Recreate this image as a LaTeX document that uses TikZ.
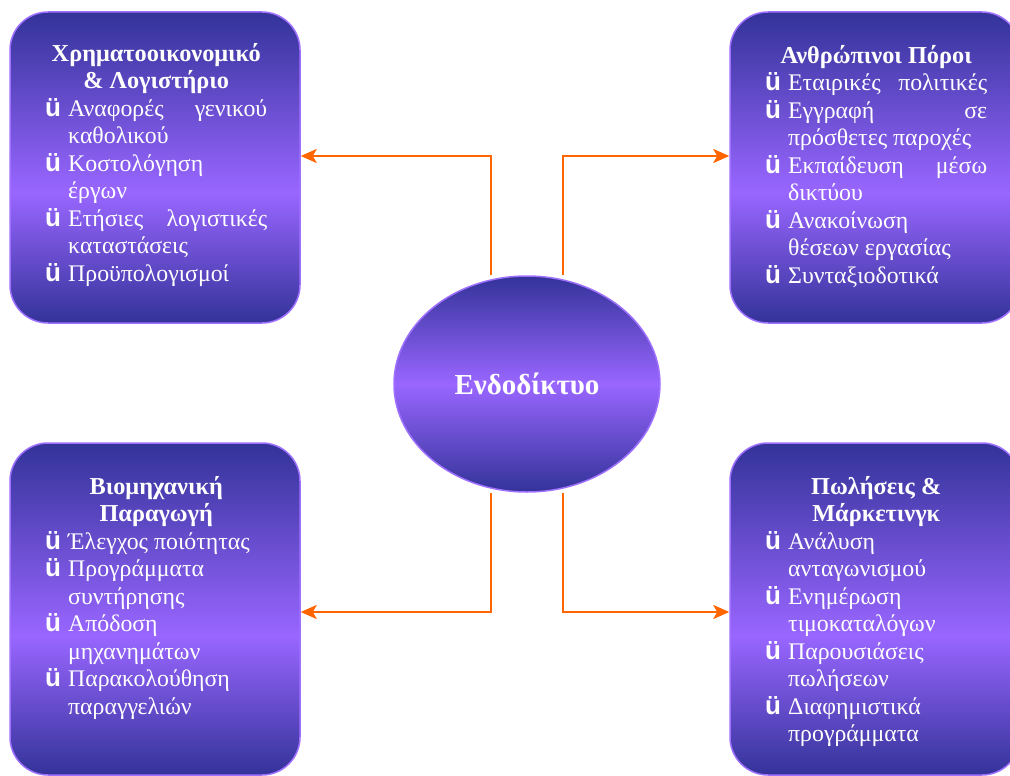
\documentclass[tikz,border=0pt]{standalone}
\usepackage{fontspec}
\setmainfont{Liberation Serif}
\newfontfamily\bulfont{Liberation Sans}
\usetikzlibrary{arrows.meta,shapes.geometric}
\definecolor{dk}{HTML}{333399}
\definecolor{lt}{HTML}{9966FF}
\definecolor{rim}{HTML}{9F70FF}
\definecolor{org}{HTML}{FF6600}
\pgfdeclareverticalshading{boxsh}{100bp}{color(0bp)=(dk); color(25bp)=(dk); color(46bp)=(lt); color(75bp)=(dk); color(100bp)=(dk)}
\pgfdeclareverticalshading{ellsh}{100bp}{color(0bp)=(dk); color(25bp)=(dk); color(50bp)=(lt); color(75bp)=(dk); color(100bp)=(dk)}
\newcommand\bu{\makebox[23pt][l]{\bulfont\bfseries\fontsize{26}{26}\selectfont ü}}
\newcommand\ttl[1]{\makebox[222pt][c]{\bfseries\fontsize{24.3}{27.5}\selectfont #1}}
\newcommand\fl[1]{\bu#1}
\newcommand\jl[1]{\bu\makebox[199pt][s]{#1}}
\newcommand\cl[1]{\hspace*{23pt}#1}
\tikzset{
  box/.style={rectangle, rounded corners=38pt, minimum width=290pt, shade, shading=boxsh, draw=rim, line width=1.5pt, inner sep=0pt},
  txt/.style={anchor=north west, align=left, inner sep=0pt, text=white, font=\fontsize{23.8}{27.5}\selectfont},
  arr/.style={draw=org, line width=2.5pt, -{Stealth[length=16pt, width=14pt, inset=4pt]}}
}
\begin{document}
\begin{tikzpicture}[x=1pt,y=-1pt]
\useasboundingbox (0,0) rectangle (1010,776);
\fill[white] (0,0) rectangle (1010,776);
\clip (0,0) rectangle (1010,776);
\node[box, minimum height=311pt] (tl) at (155,167.5) {};
\node[box, minimum height=311pt] (tr) at (875,167.5) {};
\node[box, minimum height=332pt] (bl) at (155,609) {};
\node[box, minimum height=332pt] (br) at (875,609) {};
\node[ellipse, minimum width=266pt, minimum height=216pt, shade, shading=ellsh, draw=rim, line width=1.5pt, inner sep=0pt, text=white, font=\bfseries\fontsize{29}{32}\selectfont] (hub) at (527,384) {Ενδοδίκτυο};

\node[txt] (tlt) at (45,43) {\ttl{Χρηματοοικονομικό}\\ \ttl{\& Λογιστήριο}\\
\jl{Αναφορές γενικού}\\ \cl{καθολικού}\\ \fl{Κοστολόγηση}\\ \cl{έργων}\\
\jl{Ετήσιες λογιστικές}\\ \cl{καταστάσεις}\\ \fl{Προϋπολογισμοί}};

\node[txt] (trt) at (765,45) {\ttl{Ανθρώπινοι Πόροι}\\
\jl{Εταιρικές πολιτικές}\\ \jl{Εγγραφή σε}\\ \cl{πρόσθετες παροχές}\\
\jl{Εκπαίδευση μέσω}\\ \cl{δικτύου}\\ \fl{Ανακοίνωση}\\ \cl{θέσεων εργασίας}\\
\fl{Συνταξιοδοτικά}};

\node[txt] (blt) at (45,476) {\ttl{Βιομηχανική}\\ \ttl{Παραγωγή}\\
\fl{Έλεγχος ποιότητας}\\ \fl{Προγράμματα}\\ \cl{συντήρησης}\\
\fl{Απόδοση}\\ \cl{μηχανημάτων}\\ \fl{Παρακολούθηση}\\ \cl{παραγγελιών}};

\node[txt] (brt) at (765,476) {\ttl{Πωλήσεις \&}\\ \ttl{Μάρκετινγκ}\\
\fl{Ανάλυση}\\ \cl{ανταγωνισμού}\\ \fl{Ενημέρωση}\\ \cl{τιμοκαταλόγων}\\
\fl{Παρουσιάσεις}\\ \cl{πωλήσεων}\\ \fl{Διαφημιστικά}\\ \cl{προγράμματα}};

\coordinate (k1) at (491,156);
\coordinate (k2) at (563,156);
\coordinate (k3) at (491,612);
\coordinate (k4) at (563,612);
\draw[arr] (hub.north -| k1) |- (tl.east |- k1);
\draw[arr] (hub.north -| k2) |- (tr.west |- k2);
\draw[arr] (hub.south -| k3) |- (bl.east |- k3);
\draw[arr] (hub.south -| k4) |- (br.west |- k4);
\end{tikzpicture}
\end{document}
